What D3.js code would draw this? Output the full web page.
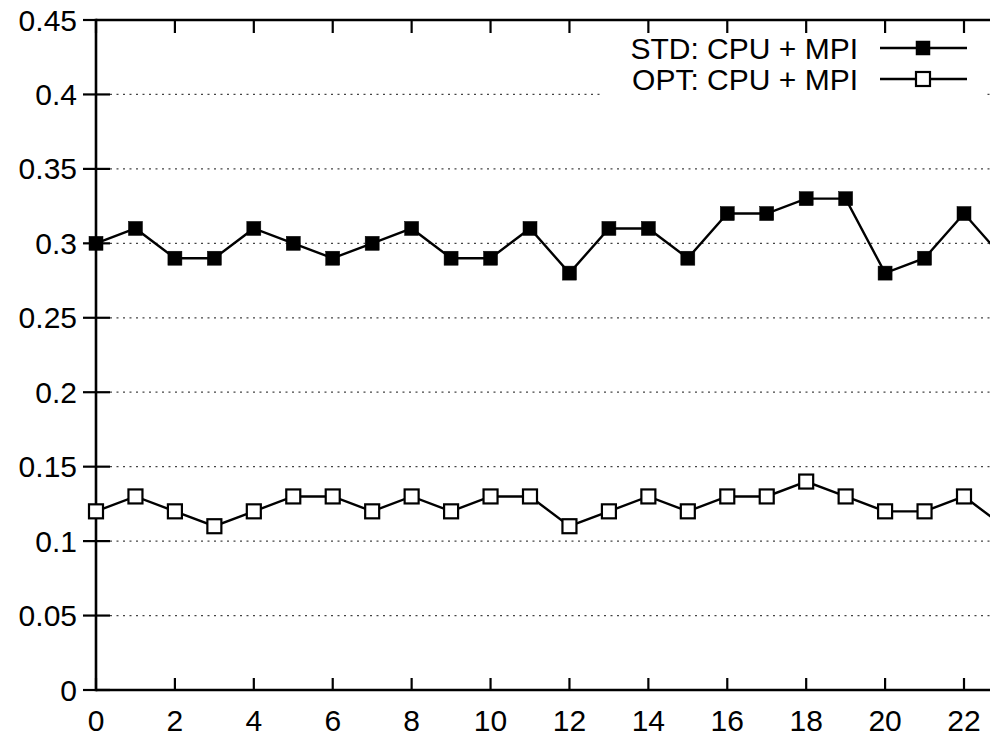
<!DOCTYPE html>
<html>
<head>
<meta charset="utf-8">
<script src="https://cdn.jsdelivr.net/npm/d3@7"></script>
<style>
  body { margin: 0; background: #fff; }
  svg { display: block; font-family: "Liberation Sans", Arial, sans-serif; }
</style>
</head>
<body>
<div id="chart"></div>
<script>
"use strict";
// values
var runs = d3.range(0, 24);
var stdValues = [0.30, 0.31, 0.29, 0.29, 0.31, 0.30, 0.29, 0.30, 0.31, 0.29, 0.29, 0.31,
                 0.28, 0.31, 0.31, 0.29, 0.32, 0.32, 0.33, 0.33, 0.28, 0.29, 0.32, 0.29];
var optValues = [0.12, 0.13, 0.12, 0.11, 0.12, 0.13, 0.13, 0.12, 0.13, 0.12, 0.13, 0.13,
                 0.11, 0.12, 0.13, 0.12, 0.13, 0.13, 0.14, 0.13, 0.12, 0.12, 0.13, 0.11];
var seriesNames = ["STD: CPU + MPI", "OPT: CPU + MPI"];
var xTicks = d3.range(0, 23, 2);
var yTicks = [0, 0.05, 0.1, 0.15, 0.2, 0.25, 0.3, 0.35, 0.4, 0.45];
var yTickLabels = ["0", "0.05", "0.1", "0.15", "0.2", "0.25", "0.3", "0.35", "0.4", "0.45"];

function drawChart()
{
    var w = 990;
    var h = 735;

    var x = d3.scaleLinear().domain([0, 22]).range([96, 964]);
    var y = d3.scaleLinear().domain([0, 0.45]).range([690, 20]);

    var svg = d3.select("#chart")
                .append("svg")
                .attr("width", w)
                .attr("height", h);

    // dotted grid
    svg.selectAll("line.grid")
        .data(yTicks.filter(function(d) { return d > 0 && d < 0.45; }))
        .enter().append("line")
        .attr("class", "grid")
        .attr("x1", 110)
        .attr("x2", w)
        .attr("y1", function(d) { return y(d); })
        .attr("y2", function(d) { return y(d); })
        .attr("stroke", "#444")
        .attr("stroke-width", 1.3)
        .attr("stroke-dasharray", "2,4.5");

    // legend box hides the grid underneath
    svg.append("rect")
        .attr("x", 604)
        .attr("y", 22)
        .attr("width", 381)
        .attr("height", 76)
        .attr("fill", "#fff");

    // frame
    svg.append("line")
        .attr("x1", x(0)).attr("x2", w)
        .attr("y1", y(0)).attr("y2", y(0))
        .attr("stroke", "#000").attr("stroke-width", 2.6);
    svg.append("line")
        .attr("x1", x(0)).attr("x2", w)
        .attr("y1", y(0.45)).attr("y2", y(0.45))
        .attr("stroke", "#000").attr("stroke-width", 2.6);
    svg.append("line")
        .attr("x1", x(0)).attr("x2", x(0))
        .attr("y1", y(0) + 1.3).attr("y2", y(0.45) - 1.3)
        .attr("stroke", "#000").attr("stroke-width", 2.6);

    // x ticks, bottom and mirrored at top
    var xt = svg.selectAll("g.xtick")
        .data(xTicks)
        .enter().append("g")
        .attr("class", "xtick")
        .attr("transform", function(d) { return "translate(" + x(d) + ",0)"; });
    xt.append("line")
        .attr("y1", y(0)).attr("y2", y(0) - 12)
        .attr("stroke", "#000").attr("stroke-width", 2.2);
    xt.append("line")
        .attr("y1", y(0.45)).attr("y2", y(0.45) + 13)
        .attr("stroke", "#000").attr("stroke-width", 2.2);
    xt.append("text")
        .text(function(d) { return d; })
        .attr("y", 731)
        .attr("text-anchor", "middle")
        .style("font-size", "30px");

    // y ticks
    var yt = svg.selectAll("g.ytick")
        .data(yTicks)
        .enter().append("g")
        .attr("class", "ytick")
        .attr("transform", function(d) { return "translate(0," + y(d) + ")"; });
    yt.append("line")
        .attr("x1", x(0) - 13).attr("x2", function(d) { return d === 0.45 ? x(0) : x(0) + 14; })
        .attr("stroke", "#000").attr("stroke-width", 2.2);
    yt.append("text")
        .text(function(d, i) { return yTickLabels[i]; })
        .attr("x", 77)
        .attr("dy", "0.35em")
        .attr("text-anchor", "end")
        .style("font-size", "30px");

    var line = d3.line()
        .x(function(d, i) { return x(runs[i]); })
        .y(function(d) { return y(d); });

    var series = [
        { name: seriesNames[0], values: stdValues, fill: "#000" },
        { name: seriesNames[1], values: optValues, fill: "#fff" }
    ];

    var size = 14;

    series.forEach(function(s) {
        svg.append("path")
            .attr("d", line(s.values))
            .attr("fill", "none")
            .attr("stroke", "#000")
            .attr("stroke-width", 2.4);

        svg.selectAll(null)
            .data(s.values)
            .enter().append("rect")
            .attr("x", function(d, i) { return x(runs[i]) - size / 2; })
            .attr("y", function(d) { return y(d) - size / 2; })
            .attr("width", size)
            .attr("height", size)
            .attr("fill", s.fill)
            .attr("stroke", "#000")
            .attr("stroke-width", s.fill === "#000" ? 0.5 : 2.2);
    });

    // legend
    var legend = svg.selectAll("g.legend")
        .data(series)
        .enter().append("g")
        .attr("class", "legend")
        .attr("transform", function(d, i) { return "translate(0," + (48 + i * 31) + ")"; });

    legend.append("text")
        .text(function(d) { return d.name; })
        .attr("x", 858)
        .attr("dy", "0.35em")
        .attr("text-anchor", "end")
        .style("font-size", "30px");

    legend.append("line")
        .attr("x1", 880).attr("x2", 967)
        .attr("stroke", "#000").attr("stroke-width", 2.4);

    legend.append("rect")
        .attr("x", 923 - size / 2)
        .attr("y", -size / 2)
        .attr("width", size)
        .attr("height", size)
        .attr("fill", function(d) { return d.fill; })
        .attr("stroke", "#000")
        .attr("stroke-width", function(d) { return d.fill === "#000" ? 0.5 : 2.2; });
}

window.addEventListener("load", function () {
    drawChart();
});
</script>
</body>
</html>
